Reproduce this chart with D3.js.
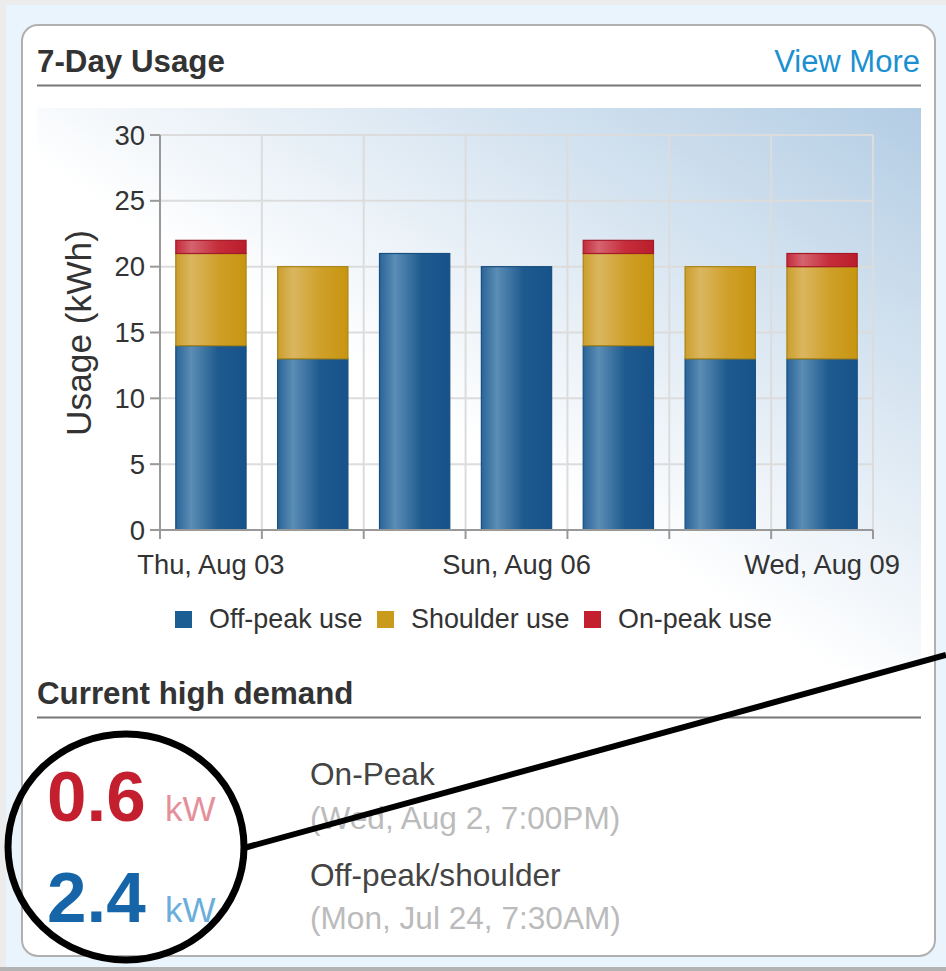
<!DOCTYPE html>
<html><head><meta charset="utf-8">
<script src="https://cdn.jsdelivr.net/npm/d3@7"></script>
<style>
html,body{margin:0;padding:0;background:#ececec;}
svg{display:block;font-family:"Liberation Sans",Arial,sans-serif;}
</style></head>
<body>
<svg id="c" width="946" height="971"></svg>
<script>
// ---- data ----
const days = ["Thu, Aug 03","Fri, Aug 04","Sat, Aug 05","Sun, Aug 06","Mon, Aug 07","Tue, Aug 08","Wed, Aug 09"];
const shownDayLabels = ["Thu, Aug 03","Sun, Aug 06","Wed, Aug 09"];
const offPeak  = [14, 13, 21, 20, 14, 13, 13];
const shoulder = [7, 7, 0, 0, 7, 7, 7];
const onPeak   = [1, 0, 0, 0, 1, 0, 1];
const seriesNames = ["Off-peak use","Shoulder use","On-peak use"];
const yTicks = [0,5,10,15,20,25,30];
const demandValues = ["0.6","2.4"];
const demandLabels = ["On-Peak","Off-peak/shoulder"];
const demandDates = ["(Wed, Aug 2, 7:00PM)","(Mon, Jul 24, 7:30AM)"];

const svg = d3.select("#c");
const defs = svg.append("defs");

// background
svg.append("rect").attr("x",6).attr("y",5).attr("width",940).attr("height",962).attr("fill","#e9f4fc");
svg.append("rect").attr("x",0).attr("y",967).attr("width",946).attr("height",4).attr("fill","#b3b3b3");
// panel
svg.append("rect").attr("x",22).attr("y",25).attr("width",913).attr("height",931).attr("rx",16)
  .attr("fill","#fff").attr("stroke","#b0b0b0").attr("stroke-width",2);

// header
svg.append("text").attr("x",37).attr("y",72).attr("font-size",31.3).attr("font-weight","bold").attr("fill","#333").text("7-Day Usage");
svg.append("text").attr("x",920).attr("y",72).attr("font-size",31).attr("text-anchor","end").attr("fill","#1a90d0").text("View More");
svg.append("line").attr("x1",37).attr("x2",921).attr("y1",85.5).attr("y2",85.5).attr("stroke","#777").attr("stroke-width",2);

// chart background gradient
const bg = defs.append("linearGradient").attr("id","bgGrad").attr("x1","0").attr("y1","1").attr("x2","1").attr("y2","0");
bg.append("stop").attr("offset","0").attr("stop-color","#ffffff");
bg.append("stop").attr("offset","0.45").attr("stop-color","#ffffff");
bg.append("stop").attr("offset","1").attr("stop-color","#b3cde4");
svg.append("rect").attr("x",37).attr("y",108).attr("width",884).attr("height",562).attr("fill","url(#bgGrad)");

// scales
const x = d3.scaleBand().domain(days).range([160,873]).padding(0);
const xb = d3.scaleBand().domain(days).range([160,873]).paddingInner(0.31).paddingOuter(0.155);
const y = d3.scaleLinear().domain([0,30]).range([530,135]);

// grid
const g = svg.append("g");
g.selectAll("line.h").data(yTicks.filter(t=>t>0)).join("line")
  .attr("x1",160).attr("x2",873).attr("y1",d=>y(d)).attr("y2",d=>y(d))
  .attr("stroke","#dcdcdc").attr("stroke-width",2);
const bounds = days.slice(1).map(d=>x(d)).concat([x.range()[1]]);
g.selectAll("line.v").data(bounds).join("line")
  .attr("x1",d=>d).attr("x2",d=>d).attr("y1",y(30)).attr("y2",y(0))
  .attr("stroke","#dcdcdc").attr("stroke-width",2);

// gradients for bars
const colors = [
  {id:"gOff", stops:["#2a6498","#5b8db5","#1e5a8e","#17528a"], stroke:"#174f80"},
  {id:"gSh",  stops:["#cc9e2c","#dab65f","#cfa02a","#c8950f"], stroke:"#a98417"},
  {id:"gOn",  stops:["#c32a3a","#d4646f","#c62d3b","#b91d2b"], stroke:"#a51a29"}
];
colors.forEach(c=>{
  const lg = defs.append("linearGradient").attr("id",c.id).attr("x1","0").attr("x2","1").attr("y1","0").attr("y2","0");
  [0,0.22,0.6,1].forEach((o,i)=>lg.append("stop").attr("offset",o).attr("stop-color",c.stops[i]));
});

const stackData = days.map((d,i)=>({day:d, off:offPeak[i], sh:shoulder[i], on:onPeak[i]}));
const stack = d3.stack().keys(["off","sh","on"])(stackData);
stack.forEach((layer,li)=>{
  svg.append("g").selectAll("rect").data(layer.filter(p=>p[1]-p[0]>0)).join("rect")
    .attr("x",p=>xb(p.data.day)).attr("width",xb.bandwidth())
    .attr("y",p=>y(p[1])).attr("height",p=>y(p[0])-y(p[1]))
    .attr("fill",`url(#${colors[li].id})`).attr("stroke",colors[li].stroke).attr("stroke-width",1.2);
});

// axes
const axisColor = "#999";
svg.append("line").attr("x1",160).attr("x2",160).attr("y1",y(30)).attr("y2",y(0)+1).attr("stroke",axisColor).attr("stroke-width",2);
svg.append("line").attr("x1",159).attr("x2",873).attr("y1",y(0)).attr("y2",y(0)).attr("stroke",axisColor).attr("stroke-width",2);
svg.append("g").selectAll("line").data(yTicks).join("line")
  .attr("x1",150).attr("x2",160).attr("y1",d=>y(d)).attr("y2",d=>y(d)).attr("stroke",axisColor).attr("stroke-width",2);
svg.append("g").selectAll("line").data([x.range()[0]].concat(bounds)).join("line")
  .attr("x1",d=>d).attr("x2",d=>d).attr("y1",y(0)).attr("y2",y(0)+9).attr("stroke",axisColor).attr("stroke-width",2);
svg.append("g").selectAll("text").data(yTicks).join("text")
  .attr("x",145).attr("y",d=>y(d)).attr("dy","0.35em").attr("text-anchor","end")
  .attr("font-size",27.5).attr("fill","#333").text(d=>d);
svg.append("g").selectAll("text").data(shownDayLabels).join("text")
  .attr("x",d=>x(d)+x.bandwidth()/2).attr("y",574).attr("text-anchor","middle")
  .attr("font-size",27.3).attr("fill","#333").text(d=>d);
svg.append("text").attr("transform","translate(91,333) rotate(-90)").attr("text-anchor","middle")
  .attr("font-size",35.3).attr("fill","#333").text("Usage (kWh)");

// legend
const legendX = [175,377,584];
const legendCol = ["#1b5e94","#c99a1b","#c41f2f"];
seriesNames.forEach((s,i)=>{
  svg.append("rect").attr("x",legendX[i]).attr("y",611).attr("width",17).attr("height",17).attr("fill",legendCol[i]);
  svg.append("text").attr("x",legendX[i]+34).attr("y",628).attr("font-size",26.9).attr("fill","#333").text(s);
});

// demand section
svg.append("text").attr("x",37).attr("y",704).attr("font-size",31.3).attr("font-weight","bold").attr("fill","#333").text("Current high demand");
svg.append("line").attr("x1",37).attr("x2",921).attr("y1",717.5).attr("y2",717.5).attr("stroke","#777").attr("stroke-width",2);

const valCol = ["#c41f2f","#1565a8"], unitCol = ["#e58f9b","#6aaedb"];
const valY = [821,922];
demandValues.forEach((v,i)=>{
  svg.append("text").attr("x",47).attr("y",valY[i]).attr("font-size",71).attr("font-weight","bold").attr("fill",valCol[i]).text(v);
  svg.append("text").attr("x",165).attr("y",valY[i]).attr("font-size",35).attr("fill",unitCol[i]).text("kW");
});
const lblY = [785,886], dateY = [829,929];
demandLabels.forEach((l,i)=>{
  svg.append("text").attr("x",310).attr("y",lblY[i]).attr("font-size",31.6).attr("fill","#444").text(l);
  svg.append("text").attr("x",310).attr("y",dateY[i]).attr("font-size",31.6).attr("fill","#bbb").text(demandDates[i]);
});

// annotation
svg.append("ellipse").attr("cx",126).attr("cy",847).attr("rx",118).attr("ry",113)
  .attr("fill","none").attr("stroke","#000").attr("stroke-width",7);
svg.append("line").attr("x1",244).attr("y1",848).attr("x2",946).attr("y2",655)
  .attr("stroke","#000").attr("stroke-width",6);
</script>
</body></html>
